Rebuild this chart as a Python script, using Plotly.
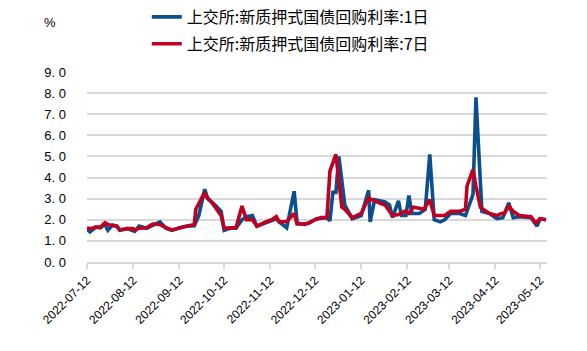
import plotly.graph_objects as go

# ---- data ----
dates_1d = ["2022-07-12","2022-07-14","2022-07-18","2022-07-21","2022-07-24","2022-07-26","2022-07-29",
            "2022-08-01","2022-08-03","2022-08-08","2022-08-13","2022-08-16","2022-08-21","2022-08-25",
            "2022-08-30","2022-09-03","2022-09-07","2022-09-12","2022-09-17","2022-09-22","2022-09-25",
            "2022-09-29","2022-10-01","2022-10-06","2022-10-10","2022-10-12","2022-10-16","2022-10-20",
            "2022-10-24","2022-10-27","2022-10-31","2022-11-03","2022-11-09","2022-11-16","2022-11-18",
            "2022-11-23","2022-11-28","2022-11-30","2022-12-05","2022-12-08","2022-12-13","2022-12-20",
            "2022-12-22","2022-12-24","2022-12-26","2022-12-28","2023-01-01","2023-01-04","2023-01-06",
            "2023-01-12","2023-01-17","2023-01-18","2023-01-21","2023-01-28","2023-01-31","2023-02-02",
            "2023-02-06","2023-02-08","2023-02-11","2023-02-13","2023-02-15","2023-02-20","2023-02-24",
            "2023-02-27","2023-03-02","2023-03-06","2023-03-09","2023-03-13","2023-03-19","2023-03-23",
            "2023-03-26","2023-03-28","2023-03-30","2023-04-01","2023-04-03","2023-04-08","2023-04-13",
            "2023-04-17","2023-04-21","2023-04-24","2023-04-28","2023-05-06","2023-05-10","2023-05-12",
            "2023-05-16"]
rate_1d = [1.55,1.43,1.65,1.62,1.78,1.50,1.75,
           1.70,1.50,1.58,1.45,1.70,1.60,1.75,
           1.90,1.60,1.50,1.62,1.70,1.72,2.20,
           3.45,3.00,2.70,2.40,1.50,1.60,1.60,
           2.00,2.15,2.20,1.70,1.85,2.05,1.90,
           1.62,3.35,1.85,1.78,1.85,2.05,2.10,
           1.95,3.30,3.30,5.00,2.70,2.30,2.05,
           2.20,3.40,1.90,2.95,2.85,2.70,2.10,
           2.90,2.20,2.20,3.15,2.30,2.30,2.50,
           5.10,2.00,1.90,2.00,2.30,2.30,2.20,
           2.80,3.20,7.80,5.25,2.40,2.30,2.05,
           2.10,2.80,2.10,2.15,2.10,1.70,2.05,
           2.00]

dates_7d = ["2022-07-12","2022-07-14","2022-07-18","2022-07-21","2022-07-24","2022-07-27","2022-08-01",
            "2022-08-03","2022-08-08","2022-08-12","2022-08-13","2022-08-16","2022-08-21","2022-08-25",
            "2022-08-30","2022-09-03","2022-09-07","2022-09-12","2022-09-17","2022-09-22","2022-09-23",
            "2022-09-27","2022-09-29","2022-09-30","2022-10-04","2022-10-10","2022-10-12","2022-10-16",
            "2022-10-20","2022-10-24","2022-10-27","2022-10-31","2022-11-03","2022-11-09","2022-11-13",
            "2022-11-16","2022-11-18","2022-11-23","2022-11-28","2022-11-30","2022-12-05","2022-12-08",
            "2022-12-12","2022-12-16","2022-12-20","2022-12-22","2022-12-26","2022-12-30","2023-01-01",
            "2023-01-06","2023-01-09","2023-01-12","2023-01-17","2023-01-19","2023-01-24","2023-01-28",
            "2023-01-31","2023-02-02","2023-02-06","2023-02-10","2023-02-13","2023-02-16","2023-02-20",
            "2023-02-23","2023-02-27","2023-03-02","2023-03-09","2023-03-13","2023-03-19","2023-03-23",
            "2023-03-24","2023-03-28","2023-03-30","2023-04-02","2023-04-08","2023-04-13","2023-04-16",
            "2023-04-18","2023-04-21","2023-04-24","2023-04-28","2023-05-06","2023-05-09","2023-05-12",
            "2023-05-16"]
rate_7d = [1.62,1.58,1.65,1.65,1.86,1.75,1.70,
           1.52,1.58,1.58,1.50,1.60,1.62,1.80,
           1.78,1.62,1.52,1.62,1.68,1.78,2.50,
           3.10,3.30,3.10,2.80,2.20,1.60,1.62,
           1.62,2.65,2.00,2.00,1.70,1.90,2.00,
           2.15,1.90,1.92,2.30,1.80,1.80,1.85,
           2.00,2.10,2.10,4.30,5.10,2.60,2.50,
           2.10,2.20,2.30,3.05,2.95,2.80,2.70,
           2.40,2.20,2.25,2.40,2.30,2.60,2.55,
           2.50,2.95,2.20,2.20,2.40,2.40,2.50,
           3.60,4.38,3.60,2.58,2.30,2.20,2.30,
           2.30,2.65,2.40,2.20,2.15,1.85,2.05,
           2.00]

series_names = ["上交所:新质押式国债回购利率:1日", "上交所:新质押式国债回购利率:7日"]
y_ticks = [0, 1, 2, 3, 4, 5, 6, 7, 8, 9]
y_tick_labels = ["0. 0", "1. 0", "2. 0", "3. 0", "4. 0", "5. 0", "6. 0", "7. 0", "8. 0", "9. 0"]

BLUE = "#0b4f8c"
RED = "#c00020"

fig = go.Figure()
fig.add_trace(go.Scatter(x=dates_1d, y=rate_1d, mode="lines", name=series_names[0],
                         legendgroup="a", line=dict(color=BLUE, width=3.6)))
fig.add_trace(go.Scatter(x=dates_7d, y=rate_7d, mode="lines", name=series_names[1],
                         legendgroup="b", line=dict(color=RED, width=3.6)))

fig.update_layout(
    width=587, height=351,
    margin=dict(l=87, r=40, t=72, b=89, autoexpand=False),
    plot_bgcolor="white", paper_bgcolor="white",
    font=dict(family="Liberation Sans, Arial, sans-serif", size=12, color="#000000"),
    showlegend=True,
    legend=dict(x=0.13, y=1.0, xref="paper", yref="container", xanchor="left", yanchor="top",
                font=dict(family="Noto Sans CJK SC", size=16, color="#000000"),
                bgcolor="rgba(0,0,0,0)", traceorder="grouped", tracegroupgap=3,
                itemwidth=30),
    annotations=[dict(text="%", xref="paper", yref="paper", x=-0.08, y=1.263,
                      xanchor="center", yanchor="middle", showarrow=False,
                      font=dict(size=13, family="Liberation Sans, Arial"))],
)
fig.update_xaxes(
    type="date",
    range=["2022-07-12", "2023-05-16 16:00"],
    tick0="2022-07-12", dtick="M1", tickformat="%Y-%m-%d", tickangle=-45,
    showgrid=False, showline=True, linecolor="#d9d9d9", linewidth=1.5,
    ticks="outside", ticklen=5, tickcolor="#d9d9d9", tickwidth=1.5,
    tickfont=dict(size=12, family="Liberation Sans, Arial"),
    zeroline=False,
)
fig.update_yaxes(
    range=[0, 9], tickvals=y_ticks, ticktext=y_tick_labels,
    showgrid=True, gridcolor="#d9d9d9", gridwidth=1.5,
    showline=False, zeroline=False, ticks="", ticklabelstandoff=20,
    tickfont=dict(size=13, family="Liberation Sans, Arial"),
)

fig.write_html("out.html")
